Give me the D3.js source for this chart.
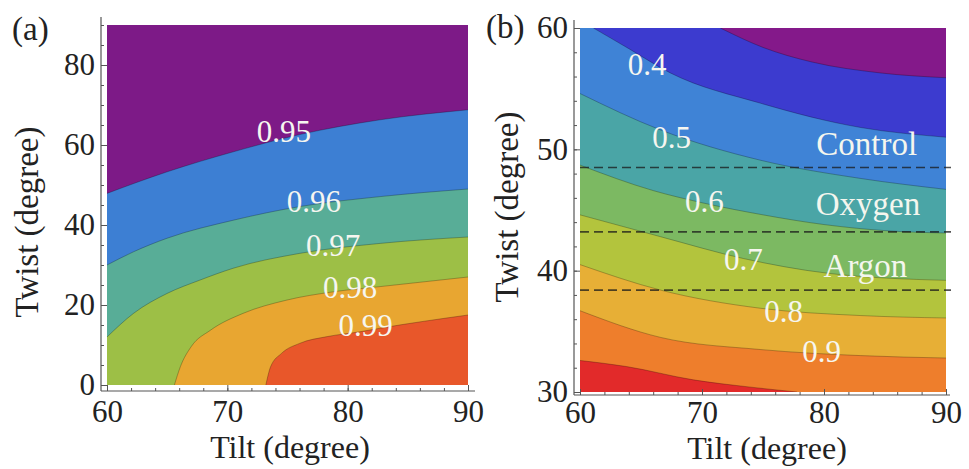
<!DOCTYPE html>
<html>
<head>
<meta charset="utf-8">
<script src="https://cdn.jsdelivr.net/npm/d3@7"></script>
<style>
body { margin: 0; background: #fff; }
svg text { font-family: "Liberation Serif", "Times New Roman", serif; }
</style>
</head>
<body>
<svg id="chart" width="969" height="469"></svg>
<script>
// ---- panel (a) ----
// contour lines as [tilt, twist] points
var levelsA = ["0.95", "0.96", "0.97", "0.98", "0.99"];
var contourA095 = [[60, 47.9], [65, 53.3], [70.5, 58.3], [76, 62.6], [82.7, 66.3], [90, 68.8]];
var contourA096 = [[60, 30], [62.2, 33.3], [65, 36.7], [70.5, 41.2], [76, 44.6], [82.7, 47.1], [90, 49]];
var contourA097 = [[60, 12], [62.2, 17.9], [65, 22.9], [67.7, 26.2], [70.5, 29.2], [76, 32.9], [82.7, 35.4], [90, 37]];
var contourA098 = [[65.6, 0], [66.1, 4.6], [67, 9.6], [68.6, 13.7], [71.3, 17.9], [74.9, 21.2], [78.8, 23.3], [82.7, 24.6], [90, 27]];
var contourA099 = [[73.2, 0], [73.6, 4.6], [74.5, 7.9], [76, 10.4], [78.3, 12.1], [81, 13.3], [82.7, 14.2], [90, 17.5]];
// where each level's label sits on its line
var labelAtA = [[74.7, 63.3], [77.2, 45.8], [78.8, 34.8], [80.2, 24.5], [81.5, 14.8]];

// ---- panel (b) ----
var levelsB = ["0.3", "0.4", "0.5", "0.6", "0.7", "0.8", "0.9", "1.0"];
var contourB03 = [[71.5, 60], [75, 58.4], [79, 57.2], [84.6, 56.3], [90, 55.9]];
var contourB04 = [[61.1, 60], [64, 58.3], [67.4, 56.3], [74.8, 53.8], [83, 51.8], [90, 51]];
var contourB05 = [[60, 54.6], [66.6, 51.6], [74.8, 49.1], [83, 47.6], [90, 46.7]];
var contourB06 = [[60, 48.7], [66, 46.6], [70, 45.6], [75, 44.6], [80, 43.8], [85, 43.3], [90, 43.1]];
var contourB07 = [[60, 44.6], [66.6, 42.8], [73.4, 41], [80.2, 39.8], [90, 39.2]];
var contourB08 = [[60, 40.5], [66.6, 38.4], [74.8, 36.9], [83, 36.3], [90, 36.1]];
var contourB09 = [[60, 36.7], [66.6, 34.5], [74.8, 33.5], [83, 33], [90, 32.8]];
var contourB10 = [[60, 32.6], [63.8, 32.1], [69.3, 31], [74, 30.4], [77.8, 30]];
// labelled levels (0.4 .. 0.9) and where they sit
var labelLevelsB = ["0.4", "0.5", "0.6", "0.7", "0.8", "0.9"];
var labelAtB = [[65.5, 57], [67.5, 51], [70.2, 45.7], [73.4, 40.9], [76.7, 36.6], [79.8, 33.3]];

// gas twist levels drawn as dashed lines
var gasNames = ["Control", "Oxygen", "Argon"];
var gasTwist = [48.5, 43.2, 38.4];
var gasLabelAt = [[83.5, 49.5], [83.6, 44.6], [83.4, 39.5]];

var ticksA = { x: [60, 70, 80, 90], y: [0, 20, 40, 60, 80] };
var ticksB = { x: [60, 70, 80, 90], y: [30, 40, 50, 60] };

var svg = d3.select("#chart");

function drawPanel(cfg) {
    var x = d3.scaleLinear().domain(cfg.xDomain).range(cfg.xRange);
    var y = d3.scaleLinear().domain(cfg.yDomain).range(cfg.yRange);
    var g = svg.append("g");

    var clipId = "clip" + cfg.name;
    g.append("clipPath").attr("id", clipId)
        .append("rect")
        .attr("x", x(cfg.xDomain[0])).attr("y", y(cfg.yDomain[1]))
        .attr("width", x(cfg.xDomain[1]) - x(cfg.xDomain[0]))
        .attr("height", y(cfg.yDomain[0]) - y(cfg.yDomain[1]));

    var plot = g.append("g").attr("clip-path", "url(#" + clipId + ")");

    // lowest band fills the whole plot, each contour then paints the side toward higher values
    plot.append("rect")
        .attr("x", x(cfg.xDomain[0])).attr("y", y(cfg.yDomain[1]))
        .attr("width", x(cfg.xDomain[1]) - x(cfg.xDomain[0]))
        .attr("height", y(cfg.yDomain[0]) - y(cfg.yDomain[1]))
        .attr("fill", cfg.colors[0]);

    var line = d3.line()
        .x(function(d) { return x(d[0]); })
        .y(function(d) { return y(d[1]); })
        .curve(d3.curveMonotoneX);

    cfg.contours.forEach(function(c, i) {
        var d = line(c) + cfg.close.map(function(p) {
            return "L" + x(p[0]) + "," + y(p[1]);
        }).join("") + "Z";
        plot.append("path").attr("d", d).attr("fill", cfg.colors[i + 1]);
    });
    cfg.contours.forEach(function(c) {
        plot.append("path").attr("d", line(c))
            .attr("fill", "none")
            .attr("stroke", "#000")
            .attr("stroke-opacity", 0.25)
            .attr("stroke-width", 1);
    });

    // axes sit a few pixels off the plot, ticks point inward
    g.append("line")
        .attr("x1", cfg.axisX).attr("x2", cfg.axisX)
        .attr("y1", cfg.axisTop).attr("y2", cfg.axisY)
        .attr("stroke", "#555").attr("stroke-width", 1.2);
    g.append("line")
        .attr("x1", cfg.axisX).attr("x2", cfg.axisRight)
        .attr("y1", cfg.axisY).attr("y2", cfg.axisY)
        .attr("stroke", "#555").attr("stroke-width", 1.2);

    var yAxis = g.append("g").attr("transform", "translate(" + cfg.axisX + ",0)")
        .call(d3.axisLeft(y).tickValues(cfg.ticks.y).tickSize(-6).tickPadding(6).tickFormat(d3.format("d")));
    var yMinor = g.append("g").attr("transform", "translate(" + cfg.axisX + ",0)")
        .call(d3.axisLeft(y).tickValues(d3.range(cfg.yDomain[0], cfg.yDomain[1] + 0.01, cfg.yMinor)).tickSize(-3).tickFormat(""));
    var xAxis = g.append("g").attr("transform", "translate(0," + cfg.axisY + ")")
        .call(d3.axisBottom(x).tickValues(cfg.ticks.x).tickSize(-6).tickPadding(cfg.xPad).tickFormat(d3.format("d")));
    var xMinor = g.append("g").attr("transform", "translate(0," + cfg.axisY + ")")
        .call(d3.axisBottom(x).tickValues(d3.range(cfg.xDomain[0], cfg.xDomain[1] + 0.01, 2)).tickSize(-3).tickFormat(""));

    [yAxis, yMinor, xAxis, xMinor].forEach(function(a) {
        a.select(".domain").remove();
        a.selectAll("line").attr("stroke", "#555");
        a.selectAll("text").attr("font-size", 31).attr("fill", "#222")
            .style("font-family", "'Liberation Serif', serif");
    });

    // contour labels
    cfg.labels.forEach(function(t, i) {
        plot.append("text")
            .attr("x", x(cfg.labelAt[i][0]))
            .attr("y", y(cfg.labelAt[i][1]))
            .attr("text-anchor", "middle")
            .attr("dominant-baseline", "central")
            .attr("font-size", 31)
            .attr("fill", "#f6f6f0")
            .text(t);
    });

    // axis titles and panel tag
    g.append("text")
        .attr("x", cfg.xTitle[0]).attr("y", cfg.xTitle[1])
        .attr("text-anchor", "middle").attr("font-size", 32).attr("fill", "#222")
        .text("Tilt (degree)");
    g.append("text")
        .attr("transform", "translate(" + cfg.yTitle[0] + "," + cfg.yTitle[1] + ") rotate(-90)")
        .attr("text-anchor", "middle").attr("font-size", 33).attr("fill", "#222")
        .text("Twist (degree)");
    g.append("text")
        .attr("x", cfg.tag[0]).attr("y", cfg.tag[1])
        .attr("font-size", 33).attr("fill", "#222")
        .text(cfg.tagText);

    return { g: g, plot: plot, x: x, y: y };
}

drawPanel({
    name: "A",
    xDomain: [60, 90], yDomain: [0, 90],
    xRange: [107, 468], yRange: [385, 25],
    contours: [contourA095, contourA096, contourA097, contourA098, contourA099],
    close: [[90, 0], [60, 0]],
    colors: ["#7d1a87", "#3d7fd3", "#58ad97", "#9dbf46", "#e8a631", "#e8572a"],
    labels: levelsA, labelAt: labelAtA,
    ticks: ticksA, yMinor: 5, xPad: 9,
    axisX: 101, axisY: 391, axisTop: 17, axisRight: 475,
    xTitle: [290, 458], yTitle: [38, 222],
    tag: [12, 40], tagText: "(a)"
});

var pb = drawPanel({
    name: "B",
    xDomain: [60, 90], yDomain: [30, 60],
    xRange: [580, 946], yRange: [392, 28],
    contours: [contourB03, contourB04, contourB05, contourB06, contourB07, contourB08, contourB09, contourB10],
    close: [[90, 30], [60, 30], [60, 60]],
    colors: ["#84198a", "#3c3bcf", "#3f83d6", "#4aa5a6", "#7cb962", "#b3c43d", "#e7af36", "#ee7e2c", "#e22a2a"],
    labels: labelLevelsB, labelAt: labelAtB,
    ticks: ticksB, yMinor: 2, xPad: 6,
    axisX: 574, axisY: 395, axisTop: 20, axisRight: 950,
    xTitle: [767, 459], yTitle: [518, 207],
    tag: [486, 38], tagText: "(b)"
});

// dashed gas levels and their names
pb.g.selectAll(".gas").data(gasTwist).enter().append("line")
    .attr("class", "gas")
    .attr("x1", pb.x(60)).attr("x2", 951)
    .attr("y1", function(d) { return pb.y(d); })
    .attr("y2", function(d) { return pb.y(d); })
    .attr("stroke", "#1a1a1a").attr("stroke-opacity", 0.75)
    .attr("stroke-width", 1.6).attr("stroke-dasharray", "9,5");

pb.g.selectAll(".gasName").data(gasNames).enter().append("text")
    .attr("class", "gasName")
    .attr("x", function(d, i) { return pb.x(gasLabelAt[i][0]); })
    .attr("y", function(d, i) { return pb.y(gasLabelAt[i][1]); })
    .attr("text-anchor", "middle")
    .attr("font-size", 33)
    .attr("fill", "#f4f6ee")
    .text(function(d) { return d; });
</script>
</body>
</html>
